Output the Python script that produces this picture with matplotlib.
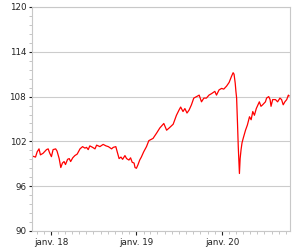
import matplotlib
matplotlib.use('Agg')
import matplotlib.pyplot as plt
import matplotlib.dates as mdates
from matplotlib.ticker import MultipleLocator, FuncFormatter
import numpy as np

dates = [
    '2017-10-17', '2017-10-27', '2017-11-03', '2017-11-11', '2017-11-17', '2017-11-28',
    '2017-12-13', '2017-12-20', '2017-12-27', '2018-01-03', '2018-01-10', '2018-01-21',
    '2018-01-27', '2018-02-05', '2018-02-12', '2018-02-19', '2018-02-26', '2018-03-04',
    '2018-03-13', '2018-03-20', '2018-03-26', '2018-04-04', '2018-04-13', '2018-04-23',
    '2018-05-05', '2018-05-16', '2018-05-26', '2018-06-02', '2018-06-09', '2018-06-16',
    '2018-06-28', '2018-07-08', '2018-07-15', '2018-07-29', '2018-08-12', '2018-08-24',
    '2018-09-03', '2018-09-17', '2018-09-24', '2018-10-05', '2018-10-11', '2018-10-19',
    '2018-10-27', '2018-11-03', '2018-11-13', '2018-11-20', '2018-11-30', '2018-12-07',
    '2018-12-14', '2018-12-22', '2018-12-26', '2019-01-01', '2019-01-08', '2019-01-15',
    '2019-01-22', '2019-02-01', '2019-02-13', '2019-02-23', '2019-03-13', '2019-03-28',
    '2019-04-11', '2019-04-28', '2019-05-10', '2019-05-21', '2019-06-07', '2019-06-14',
    '2019-06-21', '2019-07-02', '2019-07-09', '2019-07-19', '2019-07-27', '2019-08-05',
    '2019-08-14', '2019-08-24', '2019-09-03', '2019-09-15', '2019-09-26', '2019-10-06',
    '2019-10-16', '2019-10-27', '2019-11-07', '2019-11-18', '2019-12-02', '2019-12-09',
    '2019-12-20', '2019-12-31', '2020-01-09', '2020-01-21', '2020-02-01', '2020-02-11',
    '2020-02-18', '2020-02-22', '2020-02-27', '2020-03-01', '2020-03-04', '2020-03-08',
    '2020-03-11', '2020-03-16', '2020-03-19', '2020-03-23', '2020-03-27', '2020-04-01',
    '2020-04-11', '2020-04-19', '2020-04-28', '2020-05-05', '2020-05-12', '2020-05-19',
    '2020-05-27', '2020-06-09', '2020-06-16', '2020-06-23', '2020-07-05', '2020-07-10',
    '2020-07-19', '2020-07-25', '2020-07-29', '2020-08-05', '2020-08-17', '2020-08-26',
    '2020-09-05', '2020-09-12', '2020-09-19', '2020-09-26', '2020-10-04', '2020-10-11',
    '2020-10-14',
]
values = [
    100.0, 99.9, 100.6, 101.0, 100.2, 100.4,
    100.9, 101.0, 100.4, 99.96, 100.9, 101.0,
    100.7, 99.7, 98.5, 99.1, 99.3, 98.9,
    99.6, 99.7, 99.3, 99.8, 100.1, 100.3,
    101.0, 101.3, 101.1, 101.2, 100.9, 101.4,
    101.2, 101.0, 101.5, 101.3, 101.6, 101.4,
    101.3, 101.0, 101.2, 101.3, 100.6, 99.7,
    99.9, 99.6, 100.1, 99.7, 99.5, 99.8,
    99.2, 99.1, 98.5, 98.4, 98.9, 99.5,
    99.9, 100.6, 101.3, 102.1, 102.4, 103.1,
    103.8, 104.4, 103.5, 103.8, 104.3, 104.9,
    105.5, 106.2, 106.6, 106.0, 106.4, 105.8,
    106.2, 106.9, 107.8, 108.0, 108.2, 107.3,
    107.8, 107.8, 108.2, 108.4, 108.7, 108.2,
    108.9, 109.1, 109.0, 109.4, 109.9, 110.7,
    111.2, 111.0, 109.8, 108.7, 107.8, 104.2,
    101.3, 97.7, 99.7, 100.9, 101.8, 102.4,
    103.5, 104.2, 105.3, 104.9, 106.0, 105.5,
    106.4, 107.3, 106.7, 106.9, 107.3, 107.8,
    108.0, 107.6, 106.7, 107.6, 107.6, 107.3,
    107.8, 107.6, 106.9, 107.3, 107.6, 108.2,
    108.1,
]
y_ticks = [90, 96, 102, 108, 114, 120]
x_range = ['2017-10-12', '2020-10-18']

fig = plt.figure(figsize=(3, 2.5), dpi=100)
ax = fig.add_axes([32 / 300, 1 - 231 / 250, 258 / 300, 224 / 250])
ax.plot(np.array(dates, dtype='datetime64[D]'), values, color='#ff0000', lw=0.9)

ax.set_ylim(90, 120)
ax.set_yticks(y_ticks)
ax.yaxis.set_minor_locator(MultipleLocator(1.2))
ax.set_xlim(np.datetime64(x_range[0]), np.datetime64(x_range[1]))
ax.xaxis.set_major_locator(mdates.YearLocator())
ax.xaxis.set_minor_locator(mdates.MonthLocator())
ax.xaxis.set_major_formatter(FuncFormatter(lambda v, p: 'janv. ' + mdates.num2date(v).strftime('%y')))

ax.yaxis.grid(True, color='#cccccc', lw=0.8)
ax.set_axisbelow(True)
for s in ax.spines.values():
    s.set_color('#c8c8c8')
    s.set_linewidth(0.8)

ax.tick_params(axis='y', which='major', length=2.2, width=0.8, color='#222222',
               labelsize=6.3, labelcolor='#222222', pad=2)
ax.tick_params(axis='y', which='minor', length=2.2, width=0.6, color='#bbbbbb')
ax.tick_params(axis='x', which='major', length=2.9, width=0.8, color='#222222',
               labelsize=6.3, labelcolor='#222222', pad=2)
ax.tick_params(axis='x', which='minor', length=2.0, width=0.6, color='#bbbbbb')

fig.savefig('out.png', dpi=100)
